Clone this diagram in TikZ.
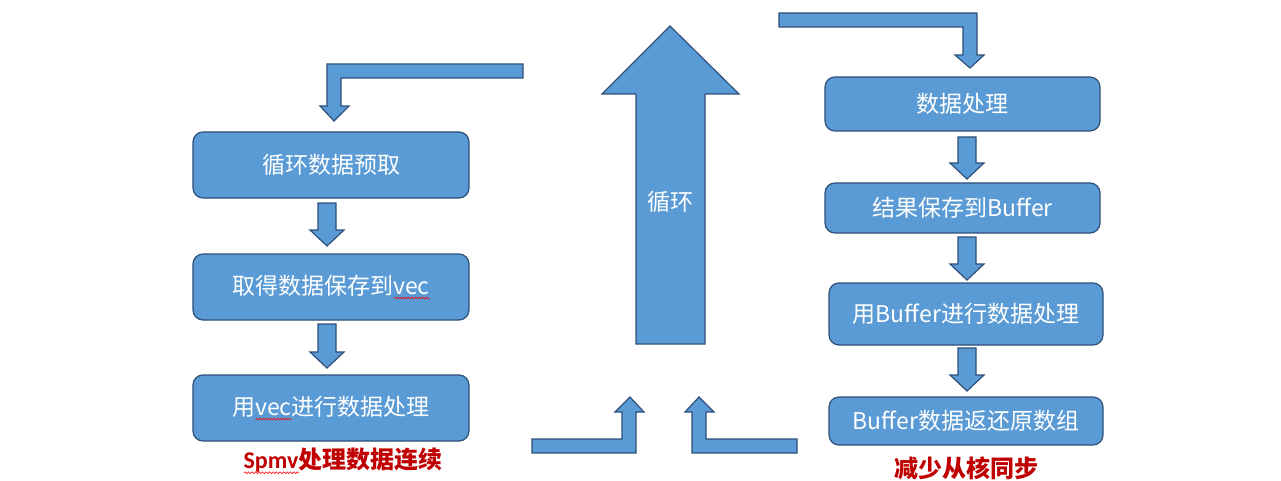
\documentclass[tikz,border=0pt]{standalone}
\usepackage{fontspec}
\usepackage{xcolor}
\usetikzlibrary{decorations.pathmorphing}
\setmainfont{Carlito}
\newfontfamily\cjk{Noto Sans CJK SC}
\definecolor{fillb}{HTML}{5B9BD5}
\definecolor{lineb}{HTML}{2E4F7A}
\definecolor{redlab}{HTML}{C00000}
\newsavebox\wavebox
\newcommand\redwave[1]{\sbox\wavebox{#1}\rlap{\tikz[x=1pt,y=1pt,baseline=4pt,sharp corners]{\draw[red, sharp corners, line width=0.6pt, decorate, decoration={snake, amplitude=0.9pt, segment length=3.5pt}] (0,0) -- (\wd\wavebox,0);}}\usebox\wavebox}
\newcommand\darrow[3]{\draw[blk] (#1-9,#2) -- (#1+9,#2) -- (#1+9,#3-16) -- (#1+17,#3-16) -- (#1,#3) -- (#1-17,#3-16) -- (#1-9,#3-16) -- cycle;}
\tikzset{
  blk/.style={fill=fillb, draw=lineb, line width=1.2pt, line join=miter},
  box/.style={blk, rounded corners=10pt, text=white, font=\fontsize{23}{26}\selectfont, inner sep=0pt},
  lab/.style={text=redlab, font=\fontsize{24}{27}\selectfont\bfseries},
}
\begin{document}
\begin{tikzpicture}[x=1pt,y=-1pt]
\useasboundingbox (0,0) rectangle (1281,481);
% left column
\node[box, minimum width=276pt, minimum height=66pt] (l1) at (331,165) {\cjk 循环数据预取};
\node[box, minimum width=276pt, minimum height=66pt] (l2) at (331,287) {\cjk 取得数据保存到\redwave{vec}};
\node[box, minimum width=276pt, minimum height=66pt] (l3) at (331,408) {\cjk 用\redwave{vec}进行数据处理};
\darrow{327}{203}{246}
\darrow{327}{324}{368}
\node[lab] (spmv) at (343,461) {\redwave{Spmv}{\cjk 处理数据连续}};
% right column
\node[box, minimum width=275pt, minimum height=54pt] (r1) at (962.5,104) {\cjk 数据处理};
\node[box, minimum width=275pt, minimum height=50pt] (r2) at (962.5,208) {\cjk 结果保存到Buffer};
\node[box, minimum width=274pt, minimum height=62pt] (r3) at (966,314) {\cjk 用Buffer进行数据处理};
\node[box, minimum width=274pt, minimum height=48pt] (r4) at (966,421) {\cjk Buffer数据返还原数组};
\darrow{967}{137}{179}
\darrow{967}{237}{280}
\darrow{967}{348}{391}
\node[lab] (sync) at (966,468) {\cjk 减少从核同步};
% big loop arrow
\draw[blk] (636,344) -- (636,94) -- (602,94) -- (670,26) -- (739,94) -- (705,94) -- (705,344) -- cycle;
\node[text=white, font=\fontsize{23}{26}\selectfont] (loop) at (670,202) {\cjk 循环};
% bent arrows
\draw[blk] (523,64) -- (327,64) -- (327,106) -- (320,106) -- (334,121) -- (349,106) -- (341,106) -- (341,78) -- (523,78) -- cycle;
\draw[blk] (779,13) -- (977,13) -- (977,55) -- (984,55) -- (970,68) -- (955,55) -- (963,55) -- (963,27) -- (779,27) -- cycle;
\draw[blk] (532,439) -- (622,439) -- (622,412) -- (615,412) -- (630,397) -- (644,412) -- (636,412) -- (636,453) -- (532,453) -- cycle;
\draw[blk] (797,439) -- (706,439) -- (706,412) -- (714,412) -- (699,397) -- (685,412) -- (692,412) -- (692,453) -- (797,453) -- cycle;
\end{tikzpicture}
\end{document}
